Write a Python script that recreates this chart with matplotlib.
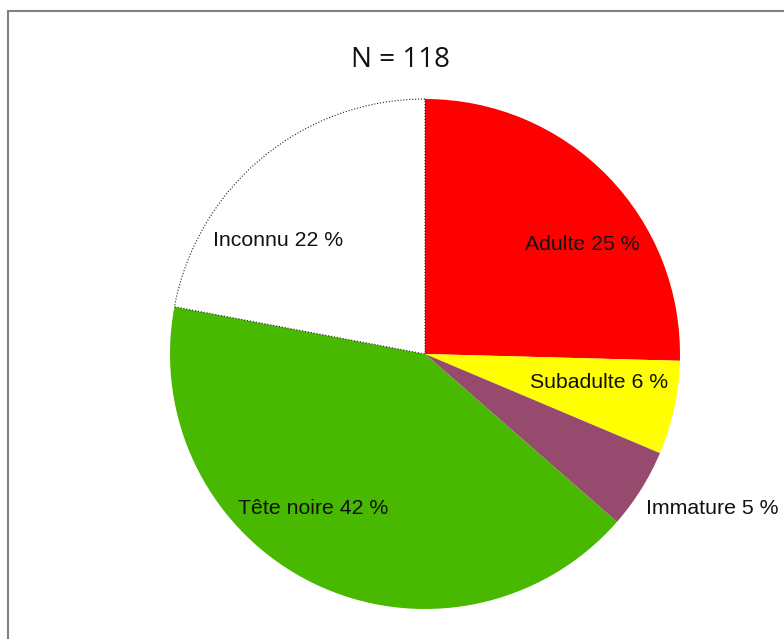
import matplotlib

matplotlib.use("Agg")
import matplotlib.pyplot as plt
from matplotlib.lines import Line2D

# effectifs par classe d'age (N = 118)
categories = ["Adulte", "Subadulte", "Immature", "Tête noire", "Inconnu"]
counts = [30, 7, 6, 49, 26]
percent_labels = ["25 %", "6 %", "5 %", "42 %", "22 %"]
colors = ["#ff0000", "#ffff00", "#954a6e", "#48b800", "#ffffff"]

W, H = 784, 639
# positions des etiquettes (pixels, origine en haut a gauche)
label_pos = [(582, 244), (599, 383), (712, 509), (313, 509), (278, 241)]

fig = plt.figure(figsize=(W / 100, H / 100), dpi=100)
ax = fig.add_axes([0, 0, 1, 1])
wedges, _ = ax.pie(counts, colors=colors, startangle=90, counterclock=False,
                   radius=255, center=(425, H - 354))
ax.set_xlim(0, W)
ax.set_ylim(0, H)
ax.set_aspect("equal")
ax.axis("off")

# la part blanche a un contour pointille
wedges[-1].set_edgecolor("#222222")
wedges[-1].set_linewidth(0.8)
wedges[-1].set_linestyle(":")

for cat, pct, (x, y) in zip(categories, percent_labels, label_pos):
    ax.text(x, H - y, f"{cat} {pct}", ha="center", va="center",
            fontsize=15.3, family="Liberation Sans", color="#111111")

ax.text(401, H - 60, "N = 118", ha="center", va="center",
        fontsize=20, family="Open Sans", color="#111111")

# cadre gris (haut et gauche seulement)
fig.add_artist(Line2D([8, W], [H - 10.5, H - 10.5], transform=None,
                      color="#808080", lw=1.5))
fig.add_artist(Line2D([8, 8], [0, H - 10.5], transform=None,
                      color="#808080", lw=1.5))

fig.savefig("out.png", dpi=100)
